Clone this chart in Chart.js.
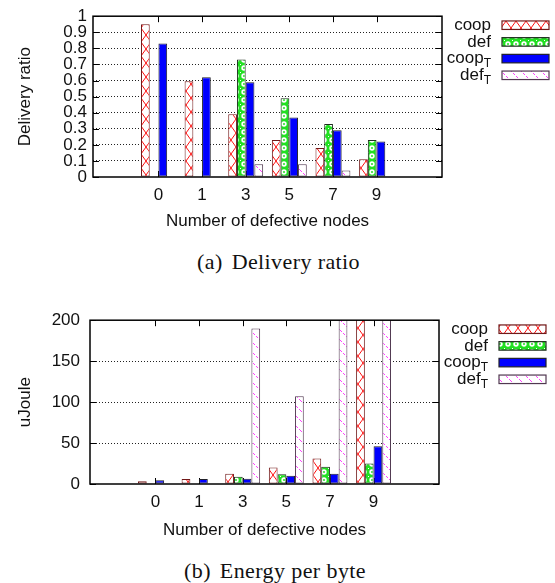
<!DOCTYPE html>
<html>
<head>
<meta charset="utf-8">
<script src="https://cdn.jsdelivr.net/npm/chart.js@4.4.1/dist/chart.umd.min.js"></script>
<style>
  html, body { margin: 0; padding: 0; background: #fff; }
  body { width: 555px; height: 583px; position: relative; overflow: hidden; }
  .wrap { position: absolute; left: 0; width: 555px; }
  #w1 { top: 0; height: 240px; }
  #w2 { top: 300px; height: 248px; }
  .cap { position: absolute; font-family: "Liberation Serif", "Times New Roman", serif; font-size: 22px;
         line-height: 22px; white-space: nowrap; color: #111; letter-spacing: 0.4px; }
  .cap .tag { margin-right: 9px; }
</style>
</head>
<body>
<div class="wrap" id="w1"><canvas id="c1"></canvas></div>
<div class="wrap" id="w2"><canvas id="c2"></canvas></div>
<div class="cap" style="left:197px; top:251px;"><span class="tag">(a)</span>Delivery ratio</div>
<div class="cap" style="left:184px; top:560px;"><span class="tag">(b)</span>Energy per byte</div>

<script>
// Number of defective nodes (x categories)
const categories = ['0', '1', '3', '5', '7', '9'];
// Series names; "_T" marks a subscript T
const seriesLabels = ['coop', 'def', 'coop_T', 'def_T'];

// (a) Delivery ratio
const ratioCoop  = [0.95, 0.595, 0.39, 0.23, 0.18, 0.11];
const ratioDef   = [null, null, 0.73, 0.49, 0.33, 0.23];
const ratioCoopT = [0.83, 0.62, 0.59, 0.37, 0.29, 0.22];
const ratioDefT  = [null, null, 0.08, 0.08, 0.04, null];

// (b) Energy per byte, uJoule (values above 200 run off the top of the plot)
const energyCoop  = [3.5, 6, 12.5, 20, 31, 240];
const energyDef   = [0.6, 0.6, 9, 12, 21, 25];
const energyCoopT = [4.5, 6, 6.5, 10, 12.5, 46];
const energyDefT  = [0.6, 0.6, 190, 107, 420, 650];

Chart.defaults.font.family = "'Liberation Sans', Arial, Helvetica, sans-serif";
Chart.defaults.color = '#111';

// ---- fill patterns ----
function tilePattern(w, h, draw) {
  const c = document.createElement('canvas');
  c.width = w; c.height = h;
  const g = c.getContext('2d');
  draw(g, w, h);
  return g.createPattern(c, 'repeat');
}
const crossHatch = tilePattern(10, 14, (g, w, h) => {
  g.fillStyle = '#fff'; g.fillRect(0, 0, w, h);
  g.strokeStyle = '#ff1010'; g.lineWidth = 1;
  g.beginPath();
  g.moveTo(0, 0); g.lineTo(w, h);
  g.moveTo(w, 0); g.lineTo(0, h);
  g.stroke();
});
const greenRings = tilePattern(8, 8, (g, w, h) => {
  g.fillStyle = '#22e022';
  g.fillRect(0, 0, w, h);
  g.fillStyle = '#fff';
  g.beginPath(); g.arc(4, 4, 2.7, 0, Math.PI * 2); g.fill();
  g.fillStyle = '#22e022';
  g.beginPath(); g.arc(4, 4, 1.0, 0, Math.PI * 2); g.fill();
  g.fillStyle = '#fff';
  g.fillRect(0, 0, 1, 1);
});
const pinkSlash = tilePattern(10, 10, (g, w, h) => {
  g.fillStyle = '#fff'; g.fillRect(0, 0, w, h);
  g.fillStyle = '#ff40ff';
  for (let i = 0; i < 10; i++) if (i % 3 !== 2) g.fillRect(i, i, 1, 1);
});

const fills = [crossHatch, greenRings, '#0000ff', pinkSlash];
const edges = ['#701818', '#1e2e1e', '#202028', '#503850'];

function makeDatasets(series) {
  return series.map((vals, k) => ({
    label: seriesLabels[k],
    data: vals.map((v, i) => ({ x: i, y: v })),
    backgroundColor: fills[k],
    borderColor: edges[k],
    borderWidth: 1,
    borderSkipped: false,
    categoryPercentage: 0.8,
    barPercentage: 1.0
  }));
}

// frame, inward tick marks and the gnuplot-style key
const framePlugin = {
  id: 'frame',
  beforeDatasetsDraw(chart) {
    const { ctx, chartArea: a, scales: { x, y } } = chart;
    // line the hatch tiles up with the first bar of each group
    const first = chart.getDatasetMeta(0).data[0];
    if (first) crossHatch.setTransform(new DOMMatrix([1, 0, 0, 1, first.x - first.width / 2, 0]));
    ctx.save();
    ctx.strokeStyle = '#000';
    ctx.lineWidth = 1;
    ctx.beginPath();
    y.ticks.forEach(t => {
      const py = Math.round(y.getPixelForValue(t.value)) + 0.5;
      ctx.moveTo(a.left, py); ctx.lineTo(a.left + 6, py);
      ctx.moveTo(a.right, py); ctx.lineTo(a.right - 6, py);
    });
    categories.forEach((c, i) => {
      const px = Math.round(x.getPixelForValue(i)) + 0.5;
      ctx.moveTo(px, a.top); ctx.lineTo(px, a.top + 6);
      ctx.moveTo(px, a.bottom); ctx.lineTo(px, a.bottom - 6);
    });
    ctx.stroke();
    ctx.restore();
  },
  afterDatasetsDraw(chart) {
    const { ctx, chartArea: a } = chart;
    ctx.save();
    ctx.strokeStyle = '#000';
    ctx.lineWidth = 1.5;
    ctx.strokeRect(a.left, a.top, a.right - a.left, a.bottom - a.top);
    ctx.restore();
  },
  afterDraw(chart) {
    const { ctx, chartArea: a } = chart;
    ctx.save();
    chart.data.datasets.forEach((ds, i) => {
      const cy = a.top + 9 + i * 16.7;
      const [main, sub] = ds.label.split('_');
      const textRight = a.right + 49;
      ctx.fillStyle = '#111';
      ctx.textBaseline = 'middle';
      ctx.textAlign = 'right';
      let right = textRight;
      if (sub) {
        ctx.font = "12px 'Liberation Sans', Arial, sans-serif";
        ctx.fillText(sub, right, cy + 5);
        right -= ctx.measureText(sub).width;
      }
      ctx.font = "17px 'Liberation Sans', Arial, sans-serif";
      ctx.fillText(main, right, cy);
      const sx = a.right + 60, sw = 47, sh = 8.5;
      ctx.fillStyle = ds.backgroundColor;
      ctx.fillRect(sx, cy - sh / 2, sw, sh);
      ctx.strokeStyle = ds.borderColor;
      ctx.lineWidth = 1.2;
      ctx.strokeRect(sx, cy - sh / 2, sw, sh);
    });
    ctx.restore();
  }
};

function buildChart(id, series, cfg) {
  return new Chart(document.getElementById(id), {
    type: 'bar',
    data: { datasets: makeDatasets(series) },
    options: {
      responsive: true,
      maintainAspectRatio: false,
      animation: false,
      devicePixelRatio: 1,
      layout: { padding: { top: cfg.padTop, right: cfg.padRight, left: 0, bottom: 0 } },
      plugins: { legend: { display: false }, tooltip: { enabled: false } },
      scales: {
        x: {
          type: 'linear',
          min: -1, max: 6,
          afterFit: s => { s.height = cfg.xHeight; },
          grid: { display: false, drawTicks: false },
          border: { display: false },
          ticks: {
            stepSize: 1, autoSkip: false, padding: 8, maxRotation: 0,
            font: { size: 17 },
            callback: v => (categories[v] !== undefined ? categories[v] : '')
          },
          title: {
            display: true, text: 'Number of defective nodes',
            font: { size: 17 }, padding: { top: 0, bottom: cfg.xTitlePad }
          }
        },
        y: {
          min: 0, max: cfg.yMax,
          afterFit: s => { s.width = cfg.yWidth; },
          grid: {
            drawTicks: false,
            lineWidth: 1,
            color: c => (c.tick && (c.tick.value === 0 || c.tick.value === cfg.yMax)) ? 'rgba(0,0,0,0)' : '#222'
          },
          border: { display: false, dash: [1, 2] },
          ticks: {
            stepSize: cfg.yStep, padding: cfg.yTickPad, autoSkip: false,
            font: { size: 17 },
            callback: cfg.yFormat
          },
          title: {
            display: true, text: cfg.yTitle,
            font: { size: 17 }, padding: { top: 15, bottom: 0 }
          }
        }
      }
    },
    plugins: [framePlugin]
  });
}

buildChart('c1', [ratioCoop, ratioDef, ratioCoopT, ratioDefT], {
  padTop: 12, padRight: 113, yWidth: 93, xHeight: 63, xTitlePad: 8,
  yMax: 1, yStep: 0.1, yTickPad: 6, yTitle: 'Delivery ratio',
  yFormat: v => String(Number(v.toFixed(1)))
});

buildChart('c2', [energyCoop, energyDef, energyCoopT, energyDefT], {
  padTop: 20, padRight: 116, yWidth: 90, xHeight: 64, xTitlePad: 7,
  yMax: 200, yStep: 50, yTickPad: 10, yTitle: 'uJoule',
  yFormat: v => String(v)
});
</script>
</body>
</html>
